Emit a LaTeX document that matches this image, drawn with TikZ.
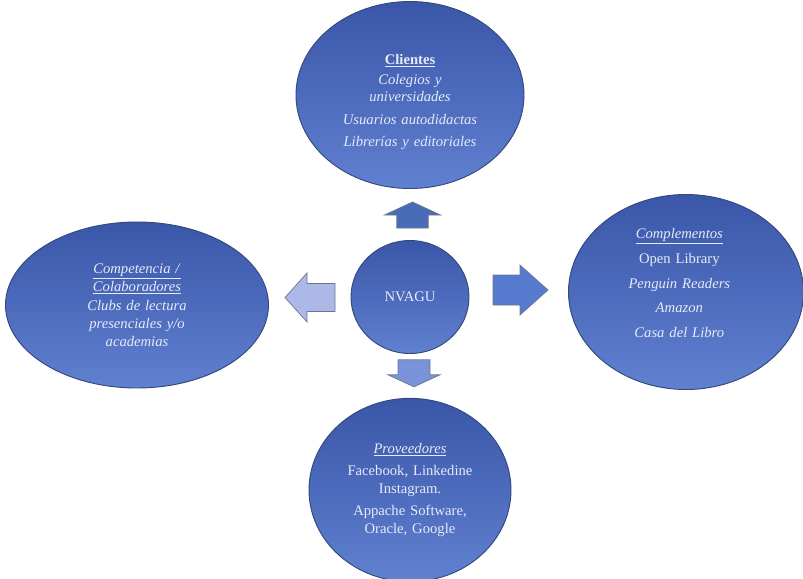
\documentclass[tikz,border=0pt]{standalone}
\usepackage{fontspec}
\setmainfont{Liberation Serif}
\usetikzlibrary{shapes.geometric,positioning}

\definecolor{ovaltop}{RGB}{58,86,168}
\definecolor{ovalbot}{RGB}{96,128,208}
\definecolor{ovalrim}{RGB}{52,72,126}
\definecolor{ovaltext}{RGB}{230,235,248}
\definecolor{arrowrim}{RGB}{110,118,140}

\tikzstyle{oval} = [ellipse, draw=ovalrim, line width=0.8pt, top color=ovaltop,
    bottom color=ovalbot, inner sep=0pt]
\tikzstyle{ovaltext} = [text=ovaltext, align=center, inner sep=0pt,
    font=\fontsize{12.5}{15}\selectfont]

% fat block arrow: centre, angle, colour, length, head length, head half, body half
\newcommand{\fatarrow}[7]{%
  \filldraw[fill=#3, draw=arrowrim, line width=0.6pt, shift={#1}, rotate=#2]
    ({-#4/2},{-#7}) -- ({#4/2-#5},{-#7}) -- ({#4/2-#5},{-#6}) -- ({#4/2},0)
    -- ({#4/2-#5},{#6}) -- ({#4/2-#5},{#7}) -- ({-#4/2},{#7}) -- cycle;}

\begin{document}
\begin{tikzpicture}
\useasboundingbox (0,0) rectangle (24.09,-17.37);

\node (NVAGU) [oval, minimum width=3.54cm, minimum height=3.39cm] at (12.3,-8.91) {};
\node (NVAGUText) [ovaltext] at (NVAGU.center) {NVAGU};

%Top
\node (Clientes) [oval, above of=NVAGU, node distance=6.06cm,
    minimum width=6.84cm, minimum height=5.61cm] {};
\node (ClientesText) [ovaltext, text width=5.2cm] at ([yshift=-0.21cm]Clientes.center)
    {\underline{\textbf{Clientes}}\\[2pt]
     \textit{Colegios y}\\ \textit{universidades}\\[4pt]
     \textit{Usuarios autodidactas}\\[4pt]
     \textit{Librerías y editoriales}};

%Right
\node (Complementos) [oval, minimum width=7.05cm, minimum height=5.85cm] at (20.58,-8.76) {};
\node (ComplementosText) [ovaltext, text width=5cm]
    at ([xshift=-0.2cm, yshift=0.27cm]Complementos.center)
    {\underline{\textit{Complementos}}\\[6pt]
     Open Library\\[6pt]
     \textit{Penguin Readers}\\[6pt]
     \textit{Amazon}\\[6pt]
     \textit{Casa del Libro}};

%Left
\node (Competencia) [oval, minimum width=7.89cm, minimum height=4.98cm] at (4.11,-9.15) {};
\node (CompetenciaText) [ovaltext, text width=4cm] at (Competencia.center)
    {\underline{\textit{Competencia /}}\\ \underline{\textit{Colaboradores}}\\[2pt]
     \textit{Clubs de lectura}\\ \textit{presenciales y/o}\\ \textit{academias}};

%Below
\node (Proveedores) [oval, below of=NVAGU, node distance=5.79cm,
    minimum width=6.06cm, minimum height=5.5cm] {};
\node (ProveedoresText) [ovaltext, text width=4.8cm] at (Proveedores.center)
    {\underline{\textit{Proveedores}}\\[4pt]
     Facebook, Linkedine\\ Instagram.\\[4pt]
     Appache Software,\\ Oracle, Google};

%Arrows
\fatarrow{(12.375,-6.45)}{90}{{rgb,255:red,72;green,108;blue,184}}{0.78}{0.39}{0.84}{0.47}
\fatarrow{(9.3,-8.925)}{180}{{rgb,255:red,172;green,184;blue,232}}{1.5}{0.66}{0.735}{0.42}
\fatarrow{(15.615,-8.7)}{0}{{rgb,255:red,86;green,122;blue,206}}{1.65}{0.84}{0.75}{0.45}
\fatarrow{(12.42,-11.2)}{270}{{rgb,255:red,122;green,146;blue,216}}{0.81}{0.36}{0.78}{0.48}

\end{tikzpicture}
\end{document}
